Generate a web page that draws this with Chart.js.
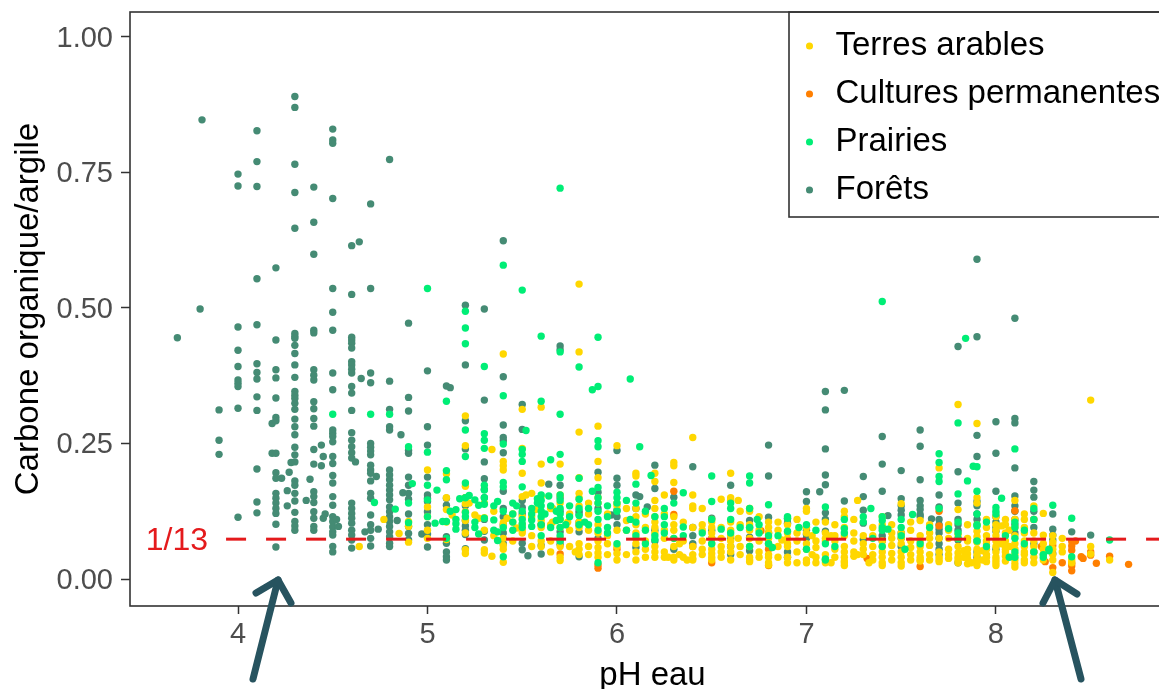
<!DOCTYPE html>
<html lang="fr">
<head>
<meta charset="utf-8">
<title>Carbone organique/argile selon le pH eau</title>
<script src="https://cdn.jsdelivr.net/npm/chart.js@4/dist/chart.umd.min.js"></script>
<style>
html,body{margin:0;padding:0;background:#fff;overflow:hidden}
#wrap{width:1159px;height:689px;overflow:hidden}
canvas{display:block}
</style>
</head>
<body>
<div id="wrap"><canvas id="c" width="1175" height="689"></canvas></div>
<script>
const seriesNames = ['Terres arables','Cultures permanentes','Prairies','Forêts'];
const seriesColors = ['#FFD700','#FF7F00','#00EE76','#458B74'];
const seriesLayers = [1,2,0,3];
const xTicks = [4,5,6,7,8];
const yTicks = [0,0.25,0.5,0.75,1];
const thresholdPh = [3.937,8.945];
const thresholdRatio = [0.0735,0.0735];

const terresCols = [
[4.64,[.060]],[4.77,[.110]],[4.85,[.084]],[4.9,[.106,.097,.068]],
[5.0,[.201,.133,.115,.090,.075]],[5.1,[.194,.150,.128,.105,.073]],[5.13,[.118]],
[5.2,[.301,.246,.171,.150,.139,.124,.108,.085,.054,.047]],[5.22,[.140]],[5.25,[.118]],
[5.3,[.140,.113,.090,.054,.048]],[5.27,[.112]],[5.34,[.239,.042]],[5.35,[.125,.080]],
[5.4,[.415,.217,.209,.201,.104,.098,.075,.062,.055,.031]],[5.42,[.112]],[5.45,[.120,.105,.070]],
[5.5,[.313,.241,.195,.152,.115,.100,.090,.085]],[5.47,[.094]],[5.52,[.155]],[5.55,[.158,.115,.080,.060]],
[5.6,[.317,.212,.177,.152,.108,.095,.070,.060]],[5.57,[.128]],[5.65,[.130,.100,.070,.050]],
[5.7,[.212,.155,.140,.110,.095,.075,.060,.040,.034]],[5.66,[.130,.105]],[5.74,[.105]],[5.75,[.120,.090,.060]],
[5.8,[.544,.419,.271,.187,.158,.150,.135,.105,.095,.065,.055,.045]],[5.78,[.050]],
[5.9,[.282,.217,.187,.150,.140,.100,.085,.070,.058,.048,.040]],[5.85,[.140,.120,.090,.060,.045]],[5.95,[.120,.080,.065,.045]],
[6.0,[.246,.140,.135,.090,.060,.047,.035]],[6.05,[.130,.108,.090,.045]],
[6.1,[.195,.190,.130,.115,.100,.085,.075,.065,.050,.035]],[6.15,[.120,.095,.070,.055,.040]],
[6.2,[.195,.180,.145,.130,.115,.105,.095,.085,.060,.050,.040]],[6.25,[.155,.120,.090,.075,.050,.040]],
[6.3,[.215,.209,.178,.115,.100,.090,.075,.060,.040,.035]],[6.27,[.040]],[6.33,[.065,.045]],[6.35,[.105,.070,.040]],
[6.4,[.261,.155,.135,.130,.095,.060,.045,.038,.035]],[6.37,[.035]],[6.45,[.130,.100,.090,.070,.055,.045]],
[6.5,[.110,.105,.095,.085,.075,.065,.055,.047,.040,.035]],[6.55,[.147,.095,.075,.060,.050,.040]],
[6.6,[.195,.150,.145,.105,.090,.080,.070,.060,.050,.035]],[6.64,[.145,.075]],[6.65,[.125,.100,.060,.045]],
[6.7,[.130,.125,.100,.090,.075,.060,.040,.035,.032]],[6.75,[.115,.090,.070,.050,.040]],
[6.8,[.105,.095,.085,.075,.065,.045,.040,.030,.026]],[6.85,[.105,.090,.060,.040]],[6.87,[.072]],
[6.9,[.100,.085,.075,.065,.060,.040,.030]],[6.95,[.110,.085,.070,.050,.030]],
[7.0,[.130,.125,.095,.085,.065,.055,.035,.030]],[7.03,[.080,.045]],[7.05,[.105,.070,.058,.040,.030]],
[7.1,[.105,.085,.075,.070,.045,.035,.030]],[7.13,[.080,.030]],[7.15,[.100,.080,.070,.055,.040]],
[7.2,[.125,.115,.095,.080,.060,.050,.040,.033,.030,.025]],[7.25,[.110,.085,.070,.050,.042]],[7.27,[.145,.045]],
[7.3,[.080,.065,.055,.045]],[7.33,[.030]],[7.35,[.095,.080,.060,.045,.035]],
[7.4,[.115,.100,.070,.060,.050,.040,.030,.025]],[7.45,[.100,.085,.075,.062,.047,.035]],
[7.5,[.139,.085,.075,.065,.050,.040,.030,.024]],[7.55,[.105,.090,.070,.058,.045,.035]],
[7.6,[.108,.080,.070,.060,.050,.040,.035,.033]],[7.65,[.100,.085,.075,.062,.045,.035]],
[7.7,[.205,.075,.050,.040,.035,.032]],[7.75,[.100,.090,.075,.055,.045,.038]],
[7.8,[.322,.128,.082,.075,.060,.048,.040,.035,.030]],[7.83,[.052,.040]],[7.85,[.100,.075,.070,.055,.046,.038,.028]],
[7.9,[.287,.150,.140,.100,.088,.078,.068,.055,.045,.035,.030,.025]],[7.87,[.030]],[7.93,[.052,.035]],
[7.95,[.110,.095,.080,.070,.065,.055,.045,.040,.032]],
[8.0,[.115,.100,.090,.080,.070,.060,.050,.040,.035,.030,.025]],[8.03,[.098,.065]],[8.05,[.110,.100,.085,.070,.060,.055,.050,.042,.033]],
[8.1,[.145,.110,.095,.080,.065,.055,.045,.035,.028,.022]],[8.07,[.090,.060]],[8.15,[.120,.110,.095,.085,.070,.060,.050,.045,.035,.030]],
[8.2,[.135,.110,.085,.070,.060,.050,.040,.030]],[8.25,[.121,.081,.065,.055,.045,.035]],
[8.3,[.080,.068,.055,.045,.035,.012]],[8.35,[.075,.060,.050]],[8.4,[.035,.030]],
[8.5,[.330,.060,.046]],[8.6,[.035]]
];

const culturesCols = [
[5.6,[.100]],[5.7,[.046]],[5.8,[.099]],[5.9,[.020,.026]],[6.0,[.055]],[6.3,[.162,.119]],[6.4,[.060]],
[6.5,[.030]],[6.76,[.089]],[6.8,[.055,.025]],[7.32,[.038]],[7.6,[.023]],[7.7,[.125,.098]],[7.9,[.035]],
[8.1,[.126]],[8.24,[.060]],[8.26,[.032]],[8.3,[.062,.021]],[8.35,[.030]],
[8.4,[.069,.061,.053,.029,.024,.015]],[8.42,[.070]],[8.45,[.041]],[8.46,[.038]],
[8.5,[.050,.044]],[8.53,[.029]],[8.6,[.042]],[8.7,[.027]]
];

const prairiesCols = [
[4.5,[.304]],[4.7,[.304]],[4.72,[.141]],[4.8,[.304]],[4.83,[.129]],[4.9,[.244,.140,.104]],[4.92,[.176]],
[5.0,[.536,.234,.173,.146,.115]],[5.04,[.103]],[5.05,[.164]],[5.08,[.106]],
[5.1,[.328,.200,.183,.106,.075]],[5.12,[.125]],[5.15,[.128,.110,.102,.092]],[5.17,[.148]],
[5.2,[.494,.463,.434,.275,.226,.177,.150,.123,.115]],[5.22,[.154]],[5.25,[.146,.105,.095]],[5.27,[.136,.083]],
[5.3,[.392,.268,.256,.241,.173,.164,.150,.138,.112]],[5.35,[.135,.109,.090]],[5.37,[.143,.087,.071]],
[5.4,[.579,.338,.249,.178,.170,.125,.095,.041]],[5.45,[.140,.120,.105,.090]],[5.47,[.135]],
[5.5,[.533,.239,.230,.217,.170,.125,.110,.102,.095]],[5.52,[.274]],[5.55,[.130,.120,.109,.097]],[5.58,[.148,.140]],
[5.6,[.448,.328,.155,.145,.135,.125,.115,.100,.080]],[5.62,[.120]],[5.64,[.153]],[5.65,[.220,.135,.095]],[5.68,[.125,.108]],
[5.7,[.721,.419,.304,.230,.187,.155,.145,.130,.120,.110,.095,.080,.070]],[5.73,[.100]],[5.75,[.135,.115]],
[5.8,[.391,.186,.147,.130,.117,.100]],[5.83,[.105]],[5.85,[.130,.100]],[5.87,[.349,.162]],
[5.9,[.446,.355,.255,.244,.169,.150,.140,.125,.110,.090,.030]],[5.95,[.135,.115,.095,.085]],
[6.0,[.160,.150,.140,.125,.065]],[6.05,[.145,.090]],[6.07,[.369,.110]],[6.1,[.175,.140,.105,.080]],[6.12,[.244]],[6.15,[.125,.090,.065]],[6.18,[.191]],
[6.2,[.115,.080,.073]],[6.25,[.130,.115,.100,.085]],[6.3,[.140,.075]],[6.35,[.159,.096,.080]],[6.45,[.085]],
[6.5,[.190,.143,.110,.065]],[6.55,[.092]],[6.6,[.140,.130,.110,.085]],[6.65,[.095]],
[6.7,[.190,.177,.130,.095,.060]],[6.74,[.110]],[6.75,[.100,.085]],
[6.8,[.137,.080,.065]],[6.82,[.058]],[6.85,[.080]],[6.9,[.115,.112,.088]],[6.96,[.095]],[7.0,[.100,.055]],[7.05,[.090]],
[7.1,[.133,.065,.037,.035]],[7.15,[.060]],[7.2,[.110,.093,.085]],[7.3,[.115,.105]],[7.34,[.130]],[7.35,[.075]],
[7.4,[.512,.115,.108,.095,.090,.060]],[7.43,[.092]],[7.5,[.110,.095,.080]],[7.52,[.055]],[7.56,[.119]],[7.6,[.065]],[7.65,[.095]],
[7.7,[.231,.215,.189,.180,.130]],[7.75,[.093]],[7.8,[.288,.157,.105,.085,.075]],[7.84,[.444]],[7.85,[.181]],[7.88,[.208]],
[7.9,[.207,.162,.120,.100,.098,.070]],[7.95,[.105,.060]],[8.0,[.132,.125,.120]],[8.03,[.149]],[8.05,[.080]],[8.07,[.040]],
[8.1,[.240,.105,.095,.075,.050,.040]],[8.15,[.090,.065]],[8.2,[.130,.110,.050]],[8.25,[.045,.040]],[8.28,[.055,.052]],
[8.3,[.136]],[8.4,[.112,.041]],[8.6,[.072]]
];

const foretsCols = [
[3.68,[.445]],[3.8,[.498]],[3.81,[.847]],[3.9,[.312,.256,.230]],
[4.0,[.747,.725,.465,.422,.392,.367,.361,.355,.315,.114]],
[4.1,[.827,.770,.724,.554,.469,.397,.381,.369,.336,.311,.203,.142,.122]],
[4.18,[.287,.232]],
[4.2,[.574,.441,.386,.371,.334,.298,.292,.232,.196,.186,.158,.149,.140,.130,.121,.101,.059]],
[4.23,[.186]],[4.26,[.163,.135]],[4.27,[.197]],[4.28,[.215]],
[4.3,[.890,.870,.765,.713,.647,.453,.448,.444,.431,.416,.395,.372,.346,.339,.333,.324,.313,.295,.281,.266,.243,.229,.216,.181,.173,.158,.144,.123,.106,.098,.090]],
[4.36,[.145]],[4.38,[.184]],
[4.4,[.723,.658,.599,.459,.454,.386,.376,.367,.327,.314,.296,.282,.239,.212,.161,.152,.141,.124,.112,.097,.090]],
[4.44,[.247,.209]],[4.45,[.226,.112]],[4.46,[.120]],
[4.5,[.830,.810,.804,.702,.536,.492,.459,.380,.349,.275,.269,.263,.253,.226,.213,.191,.177,.152,.136,.115,.106,.096,.087,.081,.060,.050]],
[4.52,[.110]],[4.53,[.097]],
[4.6,[.615,.525,.446,.441,.435,.426,.401,.395,.387,.380,.355,.343,.311,.270,.256,.244,.233,.223,.140,.130,.121,.112,.103,.090,.081,.072,.057]],
[4.62,[.216]],[4.64,[.622]],[4.65,[.370]],[4.67,[.087]],
[4.7,[.692,.536,.380,.362,.250,.243,.236,.229,.210,.201,.195,.181,.158,.149,.118,.100,.090,.075,.061]],
[4.73,[.189]],[4.74,[.092]],
[4.8,[.774,.365,.313,.281,.275,.201,.192,.183,.173,.164,.155,.146,.133,.124,.115,.106,.097,.087,.078,.066,.060]],
[4.84,[.108]],[4.86,[.266]],[4.87,[.159]],
[4.9,[.472,.335,.310,.237,.232,.188,.173,.158,.147,.120,.097,.084,.072]],
[4.97,[.083]],[5.0,[.384,.281,.247,.188,.155,.149,.143,.124,.100,.083,.059]],
[5.1,[.356,.149,.136,.078,.066,.050,.041,.035]],[5.12,[.353]],
[5.2,[.505,.395,.292,.240,.150,.135,.108,.098,.090,.082,.056]],
[5.3,[.498,.330,.216,.185,.165,.150,.110,.088,.072]],
[5.4,[.624,.373,.284,.261,.255,.233,.162,.130,.115,.100,.085,.065]],
[5.5,[.322,.276,.145,.132,.120,.066,.054]],[5.53,[.043]],
[5.6,[.100,.062,.046]],[5.64,[.175]],[5.7,[.430,.423,.173,.150,.125,.087,.072,.064]],
[5.8,[.125,.120,.105,.087,.041]],[5.9,[.197,.160,.130,.075]],
[5.97,[.118]],[6.0,[.237,.186,.173,.127,.115,.100]],
[6.1,[.155,.130,.058]],[6.12,[.152]],[6.16,[.133]],[6.2,[.210,.167,.090,.070]],
[6.3,[.151,.055]],[6.4,[.207,.095,.080,.065]],[6.5,[.112,.090,.075]],
[6.6,[.173,.075,.060,.045]],[6.7,[.108,.095,.077,.052]],[6.8,[.247,.190,.114,.085,.065]],
[6.9,[.111,.103,.050,.040]],[7.0,[.161,.143,.096,.090,.082,.075]],
[7.07,[.161]],[7.1,[.346,.312,.240,.192,.174,.122,.110,.088]],[7.2,[.348,.144]],
[7.3,[.189,.152,.127,.103,.073]],[7.4,[.263,.212,.162,.080,.070]],[7.43,[.117]],
[7.5,[.200,.148,.135,.127,.118,.085,.075,.060]],[7.6,[.275,.245,.183,.145,.135,.128,.119,.115]],
[7.66,[.111]],[7.7,[.155,.133,.110,.100,.092,.085,.075,.065,.055,.045]],
[7.8,[.429,.198,.140,.110,.100,.090,.072,.030]],
[7.9,[.590,.447,.265,.226,.143,.135,.120,.110,.070,.050,.040]],
[8.0,[.290,.232,.162,.115,.105,.095,.088,.055]],
[8.1,[.481,.296,.288,.205,.153,.135,.125,.110,.100,.085]],
[8.2,[.180,.164,.151,.125,.110,.095,.065,.050]],
[8.3,[.120,.092,.081,.072,.047]],[8.4,[.087]],[8.5,[.081]]
];

const expand = cols => cols.flatMap(([ph, vals]) => vals.map(v => ({x: ph, y: v})));
const pointSets = [terresCols, culturesCols, prairiesCols, foretsCols];
const ink = '#333333';
const textGrey = '#4D4D4D';
const family = '"Liberation Sans", Arial, sans-serif';

const noPad = s => { s.paddingTop = 0; s.paddingBottom = 0; s.paddingLeft = 0; s.paddingRight = 0; };

const annotations = {
  id: 'annotations',
  afterLayout(chart) {
    const lg = chart.legend;
    lg.left = 785; lg.top = 14.5;
    lg.right = 1175; lg.bottom = 320;
  },
  beforeDraw(chart) {
    const c = chart.ctx;
    c.save();
    c.fillStyle = '#fff';
    c.fillRect(0, 0, chart.width, chart.height);
    c.restore();
  },
  afterDatasetsDraw(chart) {
    const c = chart.ctx, a = chart.chartArea;
    c.save();
    c.strokeStyle = ink; c.lineWidth = 1.6;
    c.strokeRect(a.left, a.top, a.right - a.left, a.bottom - a.top);
    c.strokeRect(789, a.top, 420, 205);
    c.fillStyle = '#E41A1C';
    c.font = '32px ' + family;
    c.textAlign = 'right'; c.textBaseline = 'middle';
    c.fillText('1/13', 208, 541);
    c.strokeStyle = '#27535F'; c.lineWidth = 7; c.lineCap = 'round'; c.lineJoin = 'round';
    [[[253,679],[278,580],[256,593],[291,603]], [[1081,679],[1055,580],[1043,603],[1077,594]]].forEach(([t, p, b1, b2]) => {
      c.beginPath(); c.moveTo(t[0], t[1]); c.lineTo(p[0], p[1]); c.stroke();
      c.beginPath(); c.moveTo(b1[0], b1[1]); c.lineTo(p[0], p[1]); c.lineTo(b2[0], b2[1]); c.stroke();
    });
    c.restore();
  }
};

const datasets = seriesNames.map((name, i) => ({
  label: name,
  data: expand(pointSets[i]),
  backgroundColor: seriesColors[i],
  borderWidth: 0,
  pointRadius: 3.7,
  pointHoverRadius: 3.7,
  order: seriesLayers[i]
}));
datasets.push({
  label: '1/13',
  data: thresholdPh.map((x, i) => ({x, y: thresholdRatio[i]})),
  showLine: true,
  borderColor: '#E41A1C',
  borderWidth: 3,
  borderDash: [20, 20],
  pointRadius: 0,
  order: -1
});

new Chart(document.getElementById('c'), {
  type: 'scatter',
  data: {datasets},
  plugins: [annotations],
  options: {
    responsive: false,
    animation: false,
    events: [],
    layout: {autoPadding: false, padding: {top: 12, left: 0, right: 0, bottom: 0}},
    plugins: {
      tooltip: {enabled: false},
      title: {display: false},
      legend: {
        position: 'chartArea',
        align: 'start',
        labels: {
          filter: item => item.text !== '1/13',
          sort: (a, b) => a.datasetIndex - b.datasetIndex,
          usePointStyle: true,
          pointStyle: 'circle',
          boxWidth: 19,
          boxHeight: 5,
          padding: 15,
          color: '#000',
          font: {family, size: 33}
        }
      }
    },
    scales: {
      x: {
        type: 'linear',
        min: 3.43,
        max: 8.945,
        afterFit: s => { s.height = 83; noPad(s); },
        afterBuildTicks: s => { s.ticks = xTicks.map(value => ({value})); },
        grid: {drawOnChartArea: false, drawTicks: true, tickLength: 8, tickColor: ink, tickWidth: 1.5},
        border: {display: false},
        ticks: {color: textGrey, font: {family, size: 29}, padding: 4, maxRotation: 0, callback: v => String(v)},
        title: {display: true, text: 'pH eau', color: '#000', font: {family, size: 33, lineHeight: 0.8}, padding: {top: 0, bottom: 0}}
      },
      y: {
        type: 'linear',
        min: -0.0498,
        max: 1.046,
        afterFit: s => { s.width = 130; noPad(s); },
        afterBuildTicks: s => { s.ticks = yTicks.map(value => ({value})); },
        grid: {drawOnChartArea: false, drawTicks: true, tickLength: 9, tickColor: ink, tickWidth: 1.5},
        border: {display: false},
        ticks: {color: textGrey, font: {family, size: 29}, padding: 8, labelOffset: 2, callback: v => v.toFixed(2)},
        title: {display: true, text: 'Carbone organique/argile', color: '#000', font: {family, size: 33, lineHeight: 1.2}, padding: {top: 9, bottom: 0}}
      }
    }
  }
});
</script>
</body>
</html>
